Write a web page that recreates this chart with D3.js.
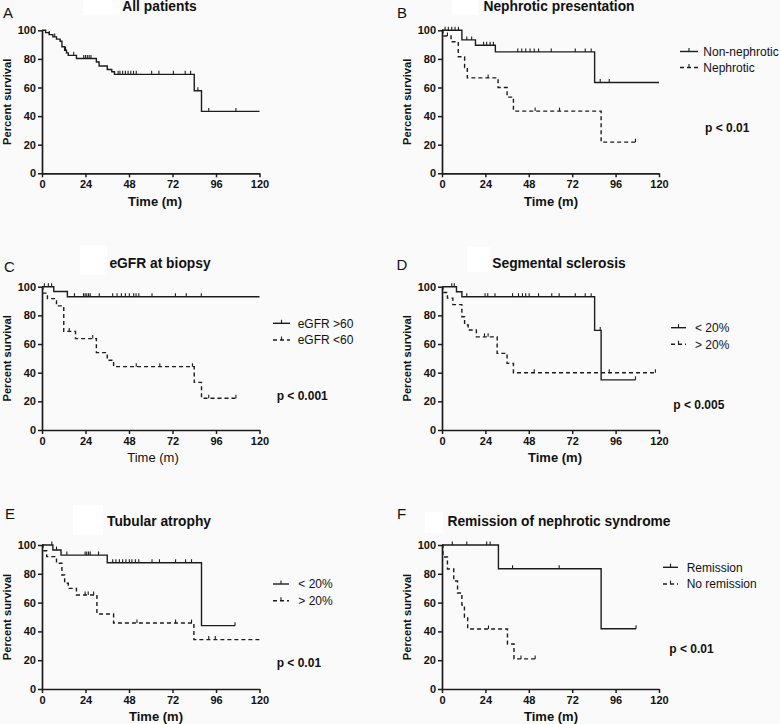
<!DOCTYPE html>
<html><head><meta charset="utf-8">
<script src="https://cdn.jsdelivr.net/npm/d3@7"></script>
<style>
body{margin:0;background:#fafafa}
svg{display:block}
text{font-family:"Liberation Sans",Arial,Helvetica,sans-serif;fill:#111}
</style>
</head><body><svg id="c" width="780" height="724"></svg>
<script>
// ---------- shared ticks ----------
const xTicks = [0, 24, 48, 72, 96, 120];
const yTicks = [0, 20, 40, 60, 80, 100];

// ---------- A: All patients ----------
const allTimes   = [0, 2, 4, 6, 8, 10, 11, 12.5, 13.5, 14.5, 19, 30, 31.5, 36, 38.5, 40, 84, 88];
const allValues  = [100, 98.4, 97, 95.4, 93.8, 92.3, 88.5, 86, 84.2, 82.5, 80.3, 77.8, 75, 72.6, 71, 69.2, 57.7, 43.3];
const allEnd = 120;
const allCensors = [4, 7, 13, 17.5, 23, 24, 25, 26, 27, 42, 43, 44.5, 46, 47.5, 49, 50.5, 52, 60.5, 64.5, 72.5, 79, 82, 86, 92, 107];

// ---------- B: Nephrotic presentation ----------
const nonNephTimes  = [0, 11, 18.5, 29.5, 84.4];
const nonNephValues = [100, 93.3, 89.5, 84.9, 63.5];
const nonNephEnd = 120;
const nonNephCensors = [1.7, 3.5, 5.4, 7.2, 9.1, 13.7, 16.4, 23, 24.7, 26.6, 28.4, 41.9, 44.1, 46.3, 48.7, 51, 53.4, 60.4, 73.7, 79.2, 82.5, 87.5, 92.5];
const nephTimes  = [0, 0.5, 5, 9, 12.5, 14, 31, 36, 39.5, 88];
const nephValues = [100, 96, 92, 81.5, 74, 66.7, 60, 53.3, 43.5, 21.8];
const nephEnd = 107;
const nephCensors = [3, 25.5, 51.5, 65, 107];

// ---------- C: eGFR at biopsy ----------
const gfrHiTimes  = [0, 6.5, 14];
const gfrHiValues = [100, 96.7, 93];
const gfrHiEnd = 120;
const gfrHiCensors = [1.3, 3.5, 5.3, 17.9, 22.9, 23.8, 24.7, 25.7, 26.6, 31.6, 39, 41.4, 43.8, 46, 48.2, 50.6, 51.9, 53.4, 60.7, 73.6, 79.6, 87.9];
const gfrLoTimes  = [0, 0.5, 3, 8, 12, 18.5, 30, 36, 39.5, 84, 88];
const gfrLoValues = [100, 95.5, 91.7, 86.6, 68.8, 63.8, 54, 48.7, 44.2, 33.2, 22.2];
const gfrLoEnd = 107;
const gfrLoCensors = [15, 28, 52, 65, 83, 92, 107];

// ---------- D: Segmental sclerosis ----------
const ssLoTimes  = [0, 8, 11, 84.4, 88];
const ssLoValues = [100, 96.5, 93, 69.5, 35];
const ssLoEnd = 107;
const ssLoCensors = [5.4, 6.8, 13.7, 23.8, 25.3, 29.3, 39, 42.3, 44.5, 46.3, 48.2, 53.4, 60.7, 64.8, 73.7, 79.2, 82.5, 87.5, 107];
const ssHiTimes  = [0, 0.5, 3, 6, 11, 12.5, 14.5, 19, 30.5, 36, 39.5];
const ssHiValues = [100, 96, 92, 87.5, 79, 73.3, 69.8, 65, 53.5, 46.5, 40];
const ssHiEnd = 118;
const ssHiCensors = [23.5, 25.5, 51, 92.5, 118];

// ---------- E: Tubular atrophy ----------
const taLoTimes  = [0, 6, 10.5, 36, 88];
const taLoValues = [100, 96.5, 93, 87.7, 44];
const taLoEnd = 106.5;
const taLoCensors = [5.4, 8, 13.7, 23.8, 24.7, 25.7, 26.6, 31.2, 39, 40.8, 42.7, 44.5, 46.3, 48.2, 49.6, 51.5, 53.4, 60.7, 64.8, 73.7, 79.2, 82.5, 106.5];
const taHiTimes  = [0, 0.5, 2.6, 8, 11, 12.5, 14.5, 19, 30.3, 39.5, 83.8];
const taHiValues = [100, 96, 91.9, 87.3, 79.2, 73.4, 69.9, 65.3, 52.1, 45.8, 34.3];
const taHiEnd = 120;
const taHiCensors = [23.8, 25.5, 28.5, 52.4, 73.7, 82.5, 92, 95.6];

// ---------- F: Remission of nephrotic syndrome ----------
const remTimes  = [0, 31.2, 88];
const remValues = [100, 83.5, 41.8];
const remEnd = 107.3;
const remCensors = [5.7, 13.7, 24.7, 26.6, 39, 64.8, 107.3];
const noRemTimes  = [0, 0.5, 3, 6.5, 8.6, 11, 12.4, 14.2, 36.2, 39.8];
const noRemValues = [100, 91.7, 83.3, 75, 66.7, 58.3, 50, 41.7, 31.3, 20.9];
const noRemEnd = 51.5;
const noRemCensors = [25.7, 43.7, 51.5];

// ---------- layout ----------
const INK = "#1c1c1c";
const L = {left: 42, right: 259.5}, R = {left: 442, right: 659};
const rows = [{top: 30.3, bottom: 173.3}, {top: 286.7, bottom: 430}, {top: 545, bottom: 689}];

const panels = [
  {col: L, row: rows[0], letter: "A", lx: 3, ly: 18, title: "All patients", tx: 159.5, ty: 11,
   box: [83, 0, 37, 15], ylx: 7, timeX: 155, timeY: 201, timeBold: true,
   series: [{t: allTimes, v: allValues, end: allEnd, c: allCensors, dash: false}],
   legend: null, p: null},
  {col: R, row: rows[0], letter: "B", lx: 397, ly: 18, title: "Nephrotic presentation", tx: 559, ty: 11,
   box: [452, 0, 26, 15], ylx: 406.7, timeX: 551, timeY: 201, timeBold: true,
   series: [{t: nonNephTimes, v: nonNephValues, end: nonNephEnd, c: nonNephCensors, dash: false, name: "Non-nephrotic"},
            {t: nephTimes, v: nephValues, end: nephEnd, c: nephCensors, dash: true, name: "Nephrotic"}],
   legend: {x1: 680, x2: 698, tx: 703.3, y: [51.5, 67.5]}, p: {text: "p < 0.01", x: 705, y: 128}},
  {col: L, row: rows[1], letter: "C", lx: 4, ly: 271.5, title: "eGFR at biopsy", tx: 160, ty: 268,
   box: [80, 245, 27, 30], ylx: 6.7, timeX: 153, timeY: 457, timeBold: false,
   series: [{t: gfrHiTimes, v: gfrHiValues, end: gfrHiEnd, c: gfrHiCensors, dash: false, name: "eGFR >60"},
            {t: gfrLoTimes, v: gfrLoValues, end: gfrLoEnd, c: gfrLoCensors, dash: true, name: "eGFR <60"}],
   legend: {x1: 273, x2: 290, tx: 297.7, y: [323.3, 340]}, p: {text: "p < 0.001", x: 276.7, y: 395.7}},
  {col: R, row: rows[1], letter: "D", lx: 396.5, ly: 270, title: "Segmental sclerosis", tx: 559, ty: 267.7,
   box: [467, 246.7, 23, 25], ylx: 406.7, timeX: 555, timeY: 457, timeBold: true,
   series: [{t: ssLoTimes, v: ssLoValues, end: ssLoEnd, c: ssLoCensors, dash: false, name: "< 20%"},
            {t: ssHiTimes, v: ssHiValues, end: ssHiEnd, c: ssHiCensors, dash: true, name: "> 20%"}],
   legend: {x1: 671, x2: 686, tx: 695, y: [327.7, 344.3]}, p: {text: "p < 0.005", x: 673.3, y: 405}},
  {col: L, row: rows[2], letter: "E", lx: 5, ly: 519, title: "Tubular atrophy", tx: 159, ty: 526,
   box: [73, 505, 30, 30], ylx: 6.7, timeX: 156, timeY: 716.7, timeBold: true,
   series: [{t: taLoTimes, v: taLoValues, end: taLoEnd, c: taLoCensors, dash: false, name: "< 20%"},
            {t: taHiTimes, v: taHiValues, end: taHiEnd, c: taHiCensors, dash: true, name: "> 20%"}],
   legend: {x1: 273, x2: 289, tx: 298.3, y: [584, 600.7]}, p: {text: "p < 0.01", x: 276.7, y: 662.7}},
  {col: R, row: rows[2], letter: "F", lx: 397, ly: 519, title: "Remission of nephrotic syndrome", tx: 559, ty: 526,
   box: [425, 512, 18, 21], ylx: 406.7, timeX: 551, timeY: 716.7, timeBold: true,
   series: [{t: remTimes, v: remValues, end: remEnd, c: remCensors, dash: false, name: "Remission"},
            {t: noRemTimes, v: noRemValues, end: noRemEnd, c: noRemCensors, dash: true, name: "No remission"}],
   legend: {x1: 663, x2: 678, tx: 686.7, y: [567.3, 584]}, p: {text: "p < 0.01", x: 669.3, y: 648.3}}
];

const svg = d3.select("#c");
svg.append("rect").attr("width", 780).attr("height", 724).attr("fill", "#fafafa");

const DASH = "4,3";

panels.forEach(P => {
  const g = svg.append("g");
  const x = d3.scaleLinear().domain([0, 120]).range([P.col.left, P.col.right]);
  const y = d3.scaleLinear().domain([0, 100]).range([P.row.bottom, P.row.top]);

  // white title box artifact
  g.append("rect").attr("x", P.box[0]).attr("y", P.box[1]).attr("width", P.box[2]).attr("height", P.box[3]).attr("fill", "#ffffff");

  // panel letter & title
  g.append("text").attr("x", P.lx).attr("y", P.ly).attr("font-size", 15).text(P.letter);
  g.append("text").attr("x", P.tx).attr("y", P.ty).attr("text-anchor", "middle")
    .attr("font-size", 13.8).attr("font-weight", "bold").text(P.title);

  // axes
  const yAxis = d3.axisLeft(y).tickValues(yTicks).tickSize(4).tickSizeOuter(0).tickPadding(2);
  const xAxis = d3.axisBottom(x).tickValues(xTicks).tickSize(4).tickSizeOuter(0).tickPadding(3);
  const ya = g.append("g").attr("transform", `translate(${P.col.left},0)`).call(yAxis);
  const xa = g.append("g").attr("transform", `translate(0,${P.row.bottom})`).call(xAxis);
  [ya, xa].forEach(a => {
    a.select(".domain").attr("stroke", INK).attr("stroke-width", 1.7);
    a.selectAll(".tick line").attr("stroke", INK).attr("stroke-width", 1.5);
    a.selectAll(".tick text").attr("fill", "#111").attr("font-size", 11).attr("font-weight", "bold")
      .attr("font-family", '"Liberation Sans",Arial,sans-serif');
  });

  // axis labels
  g.append("text").attr("transform", `translate(${P.ylx},${(P.row.top + P.row.bottom) / 2}) rotate(-90)`)
    .attr("text-anchor", "middle").attr("dy", "0.35em").attr("font-size", 11.2).attr("font-weight", "bold")
    .text("Percent survival");
  g.append("text").attr("x", P.timeX).attr("y", P.timeY).attr("dy", "0.35em").attr("text-anchor", "middle")
    .attr("font-size", 13).attr("font-weight", P.timeBold ? "bold" : "normal").text("Time (m)");

  // survival curves
  const line = d3.line().x(d => x(d[0])).y(d => y(d[1])).curve(d3.curveStepAfter);
  P.series.forEach(s => {
    const pts = s.t.map((t, i) => [t, s.v[i]]);
    pts.push([s.end, s.v[s.v.length - 1]]);
    g.append("path").attr("d", line(pts)).attr("fill", "none").attr("stroke", INK)
      .attr("stroke-width", 1.4).attr("stroke-dasharray", s.dash ? DASH : null);
    s.c.forEach(ct => {
      const i = d3.bisectRight(s.t, ct) - 1;
      const yy = y(s.v[Math.max(0, i)]);
      g.append("line").attr("x1", x(ct)).attr("x2", x(ct)).attr("y1", yy).attr("y2", yy - 3.5)
        .attr("stroke", INK).attr("stroke-width", 1.1);
    });
  });

  // legend
  if (P.legend) {
    P.series.forEach((s, i) => {
      const ly = P.legend.y[i];
      g.append("line").attr("x1", P.legend.x1).attr("x2", P.legend.x2).attr("y1", ly).attr("y2", ly)
        .attr("stroke", INK).attr("stroke-width", 1.4).attr("stroke-dasharray", s.dash ? "4,3" : null);
      const mx = (P.legend.x1 + P.legend.x2) / 2;
      g.append("line").attr("x1", mx).attr("x2", mx).attr("y1", ly).attr("y2", ly - 3.5)
        .attr("stroke", INK).attr("stroke-width", 1.1);
      g.append("text").attr("x", P.legend.tx).attr("y", ly).attr("dy", "0.35em").attr("font-size", 12).text(s.name);
    });
  }
  if (P.p) {
    g.append("text").attr("x", P.p.x).attr("y", P.p.y).attr("dy", "0.35em").attr("font-size", 12)
      .attr("font-weight", "bold").text(P.p.text);
  }
});
</script>
</body></html>
